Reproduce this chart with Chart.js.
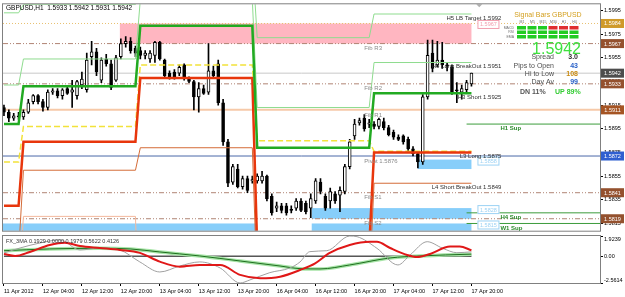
<!DOCTYPE html>
<html>
<head>
<meta charset="utf-8">
<title>GBPUSD,H1</title>
<script src="https://cdn.jsdelivr.net/npm/chart.js@4.4.1/dist/chart.umd.min.js"></script>
<style>
  html, body { margin: 0; padding: 0; background: #fff; }
  #wrap { position: relative; width: 625px; height: 297px; overflow: hidden; }
  #main { position: absolute; left: 0; top: 0; }
  #sub { position: absolute; left: 0; top: 235px; }
</style>
</head>
<body>
<div id="wrap">
  <canvas id="main" width="625" height="235"></canvas>
  <canvas id="sub" width="625" height="62"></canvas>
</div>
<script>
// ---- data ----
const timeLabels = ['11 Apr 2012', '12 Apr 04:00', '12 Apr 12:00', '12 Apr 20:00', '13 Apr 04:00', '13 Apr 12:00',
  '13 Apr 20:00', '16 Apr 04:00', '16 Apr 12:00', '16 Apr 20:00', '17 Apr 04:00', '17 Apr 12:00', '17 Apr 20:00'];
const timeLabelBars = [0, 8, 16, 24, 32, 40, 48, 56, 64, 72, 80, 88, 96];

const opens = [1.5913,1.5909,1.5904,1.5906,1.5905,1.5909,1.5918,1.5923,1.5918,1.5913,
  1.5926,1.5927,1.5923,1.5929,1.5926,1.5923,1.5932,1.5928,1.5956,1.5960,
  1.5936,1.5954,1.5950,1.5936,1.5956,1.5967,1.5969,1.5963,1.5961,1.5957,
  1.5954,1.5957,1.5968,1.5953,1.5942,1.5943,1.5942,1.5949,1.5937,1.5935,
  1.5922,1.5929,1.5926,1.5944,1.5950,1.5917,1.5884,1.5850,1.5861,1.5846,
  1.5853,1.5851,1.5851,1.5851,1.5855,1.5838,1.5828,1.5830,1.5830,1.5827,
  1.5828,1.5834,1.5832,1.5828,1.5834,1.5850,1.5838,1.5834,1.5840,1.5839,
  1.5842,1.5863,1.5889,1.5900,1.5904,1.5899,1.5899,1.5897,1.5901,1.5896,
  1.5892,1.5888,1.5889,1.5886,1.5878,1.5874,1.5867,1.5922,1.5959,1.5949,
  1.5953,1.5949,1.5947,1.5928,1.5926,1.5928,1.5933];
const highs = [1.5915,1.5911,1.5908,1.5909,1.5911,1.5920,1.5924,1.5924,1.5920,1.5928,
  1.5929,1.5929,1.5929,1.5931,1.5936,1.5936,1.5943,1.5959,1.5969,1.5963,
  1.5955,1.5958,1.5953,1.5957,1.5971,1.5973,1.5972,1.5965,1.5964,1.5961,
  1.5961,1.5969,1.5969,1.5954,1.5944,1.5945,1.5949,1.5950,1.5939,1.5936,
  1.5934,1.5932,1.5967,1.5948,1.5953,1.5920,1.5886,1.5865,1.5865,1.5855,
  1.5855,1.5855,1.5857,1.5859,1.5856,1.5840,1.5833,1.5832,1.5832,1.5830,
  1.5836,1.5836,1.5834,1.5840,1.5853,1.5853,1.5840,1.5845,1.5842,1.5846,
  1.5865,1.5886,1.5903,1.5904,1.5907,1.5903,1.5901,1.5904,1.5904,1.5898,
  1.5894,1.5890,1.5890,1.5888,1.5880,1.5875,1.5924,1.5970,1.5970,1.5969,
  1.5968,1.5951,1.5949,1.5934,1.5932,1.5936,1.5942];
const lows = [1.5906,1.5901,1.5902,1.5903,1.5903,1.5908,1.5916,1.5916,1.5910,1.5911,
  1.5924,1.5921,1.5920,1.5924,1.5913,1.5920,1.5929,1.5926,1.5949,1.5940,
  1.5934,1.5948,1.5928,1.5935,1.5954,1.5964,1.5959,1.5956,1.5954,1.5954,
  1.5951,1.5951,1.5953,1.5938,1.5937,1.5937,1.5940,1.5936,1.5934,1.5911,
  1.5909,1.5924,1.5924,1.5938,1.5915,1.5881,1.5846,1.5848,1.5845,1.5844,
  1.5841,1.5849,1.5849,1.5849,1.5834,1.5822,1.5825,1.5824,1.5822,1.5824,
  1.5826,1.5825,1.5823,1.5820,1.5832,1.5840,1.5826,1.5828,1.5832,1.5825,
  1.5840,1.5861,1.5886,1.5898,1.5893,1.5896,1.5895,1.5895,1.5894,1.5889,
  1.5886,1.5885,1.5882,1.5876,1.5872,1.5862,1.5865,1.5920,1.5943,1.5947,
  1.5946,1.5944,1.5924,1.5917,1.5920,1.5926,1.5931];
const closes = [1.5909,1.5904,1.5906,1.5905,1.5909,1.5917,1.5923,1.5918,1.5913,1.5926,
  1.5927,1.5923,1.5928,1.5925,1.5928,1.5935,1.5937,1.5953,1.5960,1.5943,
  1.5953,1.5950,1.5930,1.5955,1.5967,1.5969,1.5961,1.5959,1.5957,1.5959,
  1.5959,1.5968,1.5954,1.5940,1.5939,1.5939,1.5947,1.5938,1.5935,1.5922,
  1.5929,1.5925,1.5944,1.5940,1.5917,1.5884,1.5849,1.5863,1.5846,1.5853,
  1.5843,1.5852,1.5855,1.5855,1.5836,1.5824,1.5830,1.5826,1.5824,1.5826,
  1.5834,1.5826,1.5825,1.5836,1.5851,1.5842,1.5828,1.5842,1.5834,1.5843,
  1.5863,1.5884,1.5899,1.5902,1.5895,1.5900,1.5897,1.5903,1.5896,1.5890,
  1.5888,1.5886,1.5884,1.5878,1.5874,1.5867,1.5922,1.5957,1.5946,1.5953,
  1.5949,1.5948,1.5926,1.5927,1.5929,1.5934,1.5942];

// daily camarilla style levels, one value per trading day
const dayFirstBar = [0, 4, 28, 52, 76];
const dayLastBar = [3, 27, 51, 75, 96];
const h5Levels = [1.5993, 1.6000, 1.6040, 1.5972, 1.5992];
const h4Levels = [1.5932, 1.5954, 1.6004, 1.5913, 1.5951];
const h3Levels = [1.5899, 1.5931, 1.5982, 1.5879, 1.5925];
const pivotLevels = [1.5867, 1.5897, 1.5949, 1.5885, 1.5876];
const l3Levels = [1.5830, 1.5884, 1.5938, 1.5795, 1.5875];
const l4Levels = [1.5790, 1.5860, 1.5879, 1.5760, 1.5849];
const l5Levels = [1.5760, 1.5821, 1.5700, 1.5700, 1.5700];

// full width levels
const levelPrices = [1.5984, 1.5967, 1.5942, 1.5933, 1.5911, 1.5872, 1.5841, 1.5819];
const levelKinds = ['gold', 'fib', 'bid', 'fib', 'r1', 'pivot', 'fib', 'fib'];
const fibNames = ['Fib R3', 'Fib R2', 'Fib R1', 'Pivot 1.5876', 'Fib S1', 'Fib S2'];
const fibPrices = [1.5967, 1.5933, 1.5911, 1.5872, 1.5841, 1.5819];

const camNames = ['H5 LB Target 1.5992', 'H4 Long BreakOut 1.5951', 'H3 Short 1.5925', 'L3 Long 1.5875', 'L4 Short BreakOut 1.5849'];
const camPrices = [1.5992, 1.5951, 1.5925, 1.5875, 1.5849];

const supNames = ['H1 Sup', 'H4 Sup', 'W1 Sup'];
const supPrices = [1.5899, 1.5824, 1.5815];

const zoneFrom = [23.8, 85, 63.2, -0.2, 63.2];
const zoneTo = [96, 96, 96, 52, 96];
const zoneHigh = [1.5984, 1.5869, 1.5828, 1.5815, 1.5815];
const zoneLow = [1.5967, 1.5861, 1.5819, 1.5800, 1.5800];
const zoneKinds = ['pink', 'blue', 'blue', 'blue', 'blue'];
const zoneTags = ['1.5967', '1.5858', '1.5828', '', '1.5815'];

const yTickValues = [1.5995, 1.5975, 1.5955, 1.5935, 1.5915, 1.5895, 1.5875, 1.5855, 1.5835, 1.5815];

// signal panel
const symbolName = 'GBPUSD';
const lastPrice = '1.5942';
const headerText = 'GBPUSD,H1  1.5933 1.5942 1.5931 1.5942';
const signalFrames = ['M1', 'M5', 'M15', 'M30', 'H1', 'H4'];
const signalRows = ['MACD', 'RSI', 'EMA'];
const signalUp = [[1, 1, 1, 0, 0, 0], [1, 1, 1, 1, 1, 1], [1, 1, 1, 1, 1, 1]];
const statNames = ['Spread', 'Pips to Open', 'Hi to Low', 'Day Av'];
const statValues = ['3.0', '43', '108', '99'];
const downPct = 11, upPct = 89;

// FX_3MA sub window (bar index, value)
const fastBars = [0, 3.3, 7.4, 11.5, 15.6, 19.7, 23.8, 27.9, 32, 36.1, 40.2, 44.4, 48.5, 50.5, 54.6, 58.7, 60.8, 62.8, 66.3, 71, 72.5, 76.6, 80.9, 83.4, 86.9, 90.1, 93, 96];
const fastVals = [0.31, 0.78, 1.26, 1.55, 0.59, 0.78, 0.59, -0.55, -1.51, -0.94, -0.55, -1.13, -2.56, -2.27, -1.57, -1.13, -0.55, 0.43, 0.52, 1.92, 1.86, 0.75, -0.84, 0.11, 1.38, 0.75, 0.33, 0.4126];
const midBars = [0, 2.3, 5.3, 9.4, 12.5, 15.6, 19.7, 23.8, 27.9, 32, 36.1, 40.2, 44.4, 48.5, 52.6, 56.7, 60.8, 63.9, 66.9, 71, 75.2, 76.6, 79.3, 82.8, 84.8, 87.5, 91.6, 93.6, 96];
const midVals = [0.21, 0.02, 0.40, 1.07, 1.29, 0.97, 0.78, 0.59, 0.31, -0.52, -1.00, -0.84, -0.84, -1.79, -2.11, -1.96, -1.32, -0.68, 0.31, 1.07, 1.38, 1.38, 0.78, 0.11, -0.08, 0.21, 0.91, 0.91, 0.5622];
const slowBars = [0, 9.4, 19.7, 25.9, 32, 40.2, 48.5, 56.7, 60.8, 64.9, 71, 79.3, 85.4, 96];
const slowVals = [0.52, 0.69, 0.75, 0.69, 0.40, 0.02, -0.46, -0.94, -1.19, -1.22, -0.84, -0.17, 0.02, 0.1929];
const subTitle = 'FX_3MA 0.1929 0.0000 0.1979 0.5622 0.4126';
const subTicks = [1.9239, 0, -2.5614];

// ---- chart setup ----
const FONT = '"Liberation Sans", Arial, sans-serif';
const X_MIN = -0.2, X_MAX = 122.4;

const lineLook = {
  gold: { color: '#e8c070', width: 1, dash: [1, 2] },
  fib: { color: '#b08474', width: 1, dash: [5, 2, 1, 2, 1, 2] },
  bid: { color: '#c8c8c8', width: 1, dash: [] },
  r1: { color: '#f6c9a8', width: 2, dash: [] },
  pivot: { color: '#4a68a8', width: 1, dash: [] }
};
const tagColor = { gold: '#cf9a2a', fib: '#94512e', bid: '#4d4d4d', r1: '#a55423', pivot: '#2f5fd0' };
const zoneColor = { pink: '#ffb6c1', blue: '#87cefa' };

function stepPoints(levels) {
  const pts = [];
  levels.forEach((v, d) => {
    pts.push({ x: dayFirstBar[d], y: v });
    pts.push({ x: dayLastBar[d], y: v });
  });
  return pts;
}

function stepSet(levels, color, width, dash, order) {
  return {
    type: 'line', data: stepPoints(levels), borderColor: color, borderWidth: width,
    borderDash: dash || [], pointRadius: 0, tension: 0, order: order
  };
}

const datasets = [];

levelPrices.forEach((p, k) => {
  const look = lineLook[levelKinds[k]];
  datasets.push({
    type: 'line', data: [{ x: X_MIN, y: p }, { x: X_MAX, y: p }],
    borderColor: look.color, borderWidth: look.width, borderDash: look.dash,
    pointRadius: 0, order: 20
  });
});

supPrices.forEach(p => {
  datasets.push({
    type: 'line', data: [{ x: 95, y: p }, { x: X_MAX, y: p }],
    borderColor: '#3c9c3c', borderWidth: 1, pointRadius: 0, order: 19
  });
});

datasets.push({
  type: 'bar', data: opens.map((o, i) => ({ x: i, y: [lows[i], highs[i]] })),
  backgroundColor: '#000', barThickness: 1, grouped: false, order: 11
});
datasets.push({
  type: 'bar', data: opens.map((o, i) => ({ x: i, y: [o, closes[i]] })),
  backgroundColor: opens.map((o, i) => closes[i] >= o ? '#ffffff' : '#000000'),
  borderColor: '#000', borderWidth: 1, borderSkipped: false,
  barThickness: 3, grouped: false, minBarLength: 1, order: 10
});

datasets.push(stepSet(l5Levels, '#f4b89c', 1, null, 6));
datasets.push(stepSet(l4Levels, '#d46c38', 1, null, 5));
datasets.push(stepSet(pivotLevels, '#f2e23a', 1.5, [6, 3], 4));
datasets.push(stepSet(h5Levels, '#8fdc8f', 1, null, 3));
datasets.push(stepSet(h4Levels, '#8fdc8f', 1, null, 3));
datasets.push(stepSet(l3Levels, '#e8360c', 2.5, null, 2));
datasets.push(stepSet(h3Levels, '#22aa22', 2.5, null, 1));

function drawTag(ctx, x, yc, w, text, bg, fg, border) {
  ctx.fillStyle = bg;
  ctx.fillRect(x, yc - 4.5, w, 9);
  if (border) {
    ctx.strokeStyle = border;
    ctx.lineWidth = 1;
    ctx.strokeRect(x + 0.5, yc - 4, w - 1, 8);
  }
  ctx.fillStyle = fg;
  ctx.font = '5.5px ' + FONT;
  ctx.textAlign = 'center';
  ctx.textBaseline = 'middle';
  ctx.fillText(text, x + w / 2, yc + 0.5);
}

const mainOverlay = {
  id: 'mainOverlay',
  beforeDatasetsDraw(chart) {
    const { ctx, chartArea: a, scales: { x, y } } = chart;
    ctx.save();
    ctx.beginPath();
    ctx.rect(a.left, a.top, a.right - a.left, a.bottom - a.top);
    ctx.clip();
    zoneFrom.forEach((f, k) => {
      const x0 = x.getPixelForValue(f), x1 = x.getPixelForValue(zoneTo[k]);
      const y0 = y.getPixelForValue(zoneHigh[k]), y1 = y.getPixelForValue(zoneLow[k]);
      ctx.fillStyle = zoneColor[zoneKinds[k]];
      ctx.fillRect(x0, y0, x1 - x0, y1 - y0);
    });
    ctx.restore();
  },
  afterDatasetsDraw(chart) {
    const { ctx, chartArea: a, scales: { x, y } } = chart;
    ctx.save();
    ctx.textBaseline = 'middle';

    // header
    ctx.font = '6.5px ' + FONT;
    ctx.fillStyle = '#000';
    ctx.textAlign = 'left';
    ctx.fillText(headerText, a.left + 3, a.top + 4);

    // fib labels
    ctx.font = '6px ' + FONT;
    ctx.fillStyle = '#8a8a8a';
    fibPrices.forEach((p, k) => ctx.fillText(fibNames[k], x.getPixelForValue(74), y.getPixelForValue(p) + 5));

    // zone tags
    zoneTo.forEach((t, k) => {
      if (!zoneTags[k]) return;
      const col = zoneKinds[k] === 'pink' ? '#f2a0b0' : '#9cd2f4';
      drawTag(ctx, x.getPixelForValue(t) + 6, y.getPixelForValue(zoneHigh[k]) + (zoneKinds[k] === 'pink' ? 1 : 1.5), 22,
        zoneTags[k], '#ffffff', col, col);
    });

    // camarilla labels
    ctx.font = '6px ' + FONT;
    ctx.textBaseline = 'middle';
    ctx.fillStyle = '#303030';
    ctx.textAlign = 'right';
    const camRight = x.getPixelForValue(96) + 30;
    camPrices.forEach((p, k) => ctx.fillText(camNames[k], camRight, y.getPixelForValue(p) + 4));

    // support labels
    ctx.font = 'bold 6px ' + FONT;
    ctx.fillStyle = '#2a8a2a';
    ctx.textAlign = 'left';
    supPrices.forEach((p, k) => ctx.fillText(supNames[k], x.getPixelForValue(96) + 29, y.getPixelForValue(p) + 4.5));

    // signal panel
    const px = a.right;
    ctx.textAlign = 'center';
    ctx.font = '7px ' + FONT;
    ctx.fillStyle = '#d4a020';
    ctx.fillText('Signal Bars ' + symbolName, px - 52, 15);
    ctx.font = '3.5px ' + FONT;
    ctx.fillStyle = '#707070';
    signalFrames.forEach((f, c) => ctx.fillText(f, px - 78 + c * 10.5, 22.5));
    ctx.textAlign = 'right';
    signalRows.forEach((r, row) => ctx.fillText(r, px - 86, 28 + row * 4.5));
    signalUp.forEach((rowVals, row) => rowVals.forEach((u, c) => {
      ctx.fillStyle = u ? '#22cc22' : '#e03030';
      ctx.fillRect(px - 83 + c * 10.5, 26 + row * 4.5, 9, 3.5);
    }));

    ctx.font = '16px ' + FONT;
    ctx.fillStyle = '#3ee03e';
    ctx.textBaseline = 'alphabetic';
    ctx.fillText(lastPrice, px - 19, 54);
    ctx.textBaseline = 'middle';

    const valColors = ['#303030', '#2a62c8', '#c98a10', '#2a62c8'];
    statNames.forEach((s, k) => {
      const yy = 57.5 + k * 8.3;
      ctx.font = '7px ' + FONT;
      ctx.fillStyle = '#505050';
      ctx.textAlign = 'right';
      ctx.fillText(s, px - 46, yy);
      ctx.font = 'bold 7px ' + FONT;
      ctx.fillStyle = valColors[k];
      ctx.fillText(statValues[k], px - 22, yy);
    });
    ctx.font = 'bold 7px ' + FONT;
    ctx.textAlign = 'left';
    ctx.fillStyle = '#555';
    ctx.fillText('DN ' + downPct + '%', px - 80, 92.5);
    ctx.fillStyle = '#33cc33';
    ctx.fillText('UP ' + upPct + '%', px - 45, 92.5);

    // chart shift marker
    const sx = x.getPixelForValue(97.6);
    ctx.fillStyle = '#b0b0b0';
    ctx.beginPath();
    ctx.moveTo(sx - 3, a.top);
    ctx.lineTo(sx + 3, a.top);
    ctx.lineTo(sx, a.top + 3);
    ctx.closePath();
    ctx.fill();
    ctx.restore();
  },
  afterDraw(chart) {
    const { ctx, chartArea: a, scales: { y } } = chart;
    ctx.save();
    ctx.strokeStyle = '#808080';
    ctx.lineWidth = 1;
    ctx.strokeRect(a.left - 0.5, a.top - 0.5, a.right - a.left + 1, a.bottom - a.top + 1);
    levelPrices.forEach((p, k) => {
      drawTag(ctx, a.right + 1, y.getPixelForValue(p), 23, p.toFixed(4), tagColor[levelKinds[k]], '#ffffff');
    });
    ctx.restore();
  }
};

new Chart(document.getElementById('main'), {
  type: 'bar',
  data: { datasets: datasets },
  options: {
    responsive: false,
    animation: false,
    layout: { padding: { left: 3, top: 3, right: 0, bottom: 2 } },
    plugins: { legend: { display: false }, tooltip: { enabled: false } },
    scales: {
      x: { type: 'linear', min: X_MIN, max: X_MAX, offset: false, display: false },
      y: {
        position: 'right', min: 1.58089, max: 1.60002,
        afterFit: s => { s.width = 25; },
        afterBuildTicks: s => { s.ticks = yTickValues.map(v => ({ value: v })); },
        ticks: { callback: v => v.toFixed(4), font: { size: 5.5, family: FONT }, color: '#000', padding: 1 },
        grid: { drawOnChartArea: false, tickLength: 3, color: '#000' },
        border: { color: '#808080' }
      }
    }
  },
  plugins: [mainOverlay]
});

// ---- sub window ----
const subOverlay = {
  id: 'subOverlay',
  afterDraw(chart) {
    const { ctx, chartArea: a, scales: { y } } = chart;
    ctx.save();
    ctx.strokeStyle = '#808080';
    ctx.lineWidth = 1;
    ctx.strokeRect(a.left - 0.5, a.top - 0.5, a.right - a.left + 1, a.bottom - a.top + 1);
    ctx.font = '5.5px ' + FONT;
    ctx.fillStyle = '#333';
    ctx.textAlign = 'left';
    ctx.textBaseline = 'middle';
    ctx.fillText(subTitle, a.left + 3, a.top + 5);
    ctx.fillStyle = '#000';
    subTicks.forEach(v => {
      let yy = y.getPixelForValue(v);
      yy = Math.min(Math.max(yy, a.top + 3), a.bottom - 3);
      ctx.fillText(v === 0 ? '0.00' : v.toFixed(4), a.right + 4, yy);
    });
    ctx.restore();
  }
};

const toPts = (bars, vals) => bars.map((b, i) => ({ x: b, y: vals[i] }));

new Chart(document.getElementById('sub'), {
  type: 'line',
  data: {
    datasets: [
      { data: toPts(midBars, midVals), borderColor: '#e01818', borderWidth: 2, order: 0 },
      { data: toPts(fastBars, fastVals), borderColor: '#a0a0a0', borderWidth: 1, order: 1 },
      { data: toPts(slowBars, slowVals), borderColor: '#1f6f1f', borderWidth: 1, order: 2 },
      { data: toPts(slowBars, slowVals), borderColor: '#a6e4a6', borderWidth: 3.5, order: 3 },
      { data: [{ x: 0, y: 0 }, { x: 96, y: 0 }], borderColor: '#000', borderWidth: 1, tension: 0, order: 4 }
    ]
  },
  options: {
    responsive: false,
    animation: false,
    layout: { padding: { left: 3, top: 1, right: 0, bottom: 0 } },
    elements: { point: { radius: 0 }, line: { tension: 0.4, cubicInterpolationMode: 'monotone' } },
    plugins: { legend: { display: false }, tooltip: { enabled: false } },
    scales: {
      x: {
        type: 'linear', min: X_MIN, max: X_MAX, offset: false, position: 'bottom',
        afterFit: s => { s.height = 14; },
        afterBuildTicks: s => { s.ticks = timeLabelBars.map(v => ({ value: v })); },
        ticks: {
          autoSkip: false, maxRotation: 0, align: 'start', padding: 2,
          callback: (v, i) => timeLabels[i], font: { size: 5.5, family: FONT }, color: '#000'
        },
        grid: { drawOnChartArea: false, tickLength: 3, color: '#000' },
        border: { color: '#808080' }
      },
      y: {
        position: 'right', min: -2.5614, max: 1.9239,
        afterFit: s => { s.width = 25; },
        afterBuildTicks: s => { s.ticks = subTicks.map(v => ({ value: v })); },
        ticks: { display: false },
        grid: { drawOnChartArea: false, tickLength: 3, color: '#000' },
        border: { color: '#808080' }
      }
    }
  },
  plugins: [subOverlay]
});
</script>
</body>
</html>
